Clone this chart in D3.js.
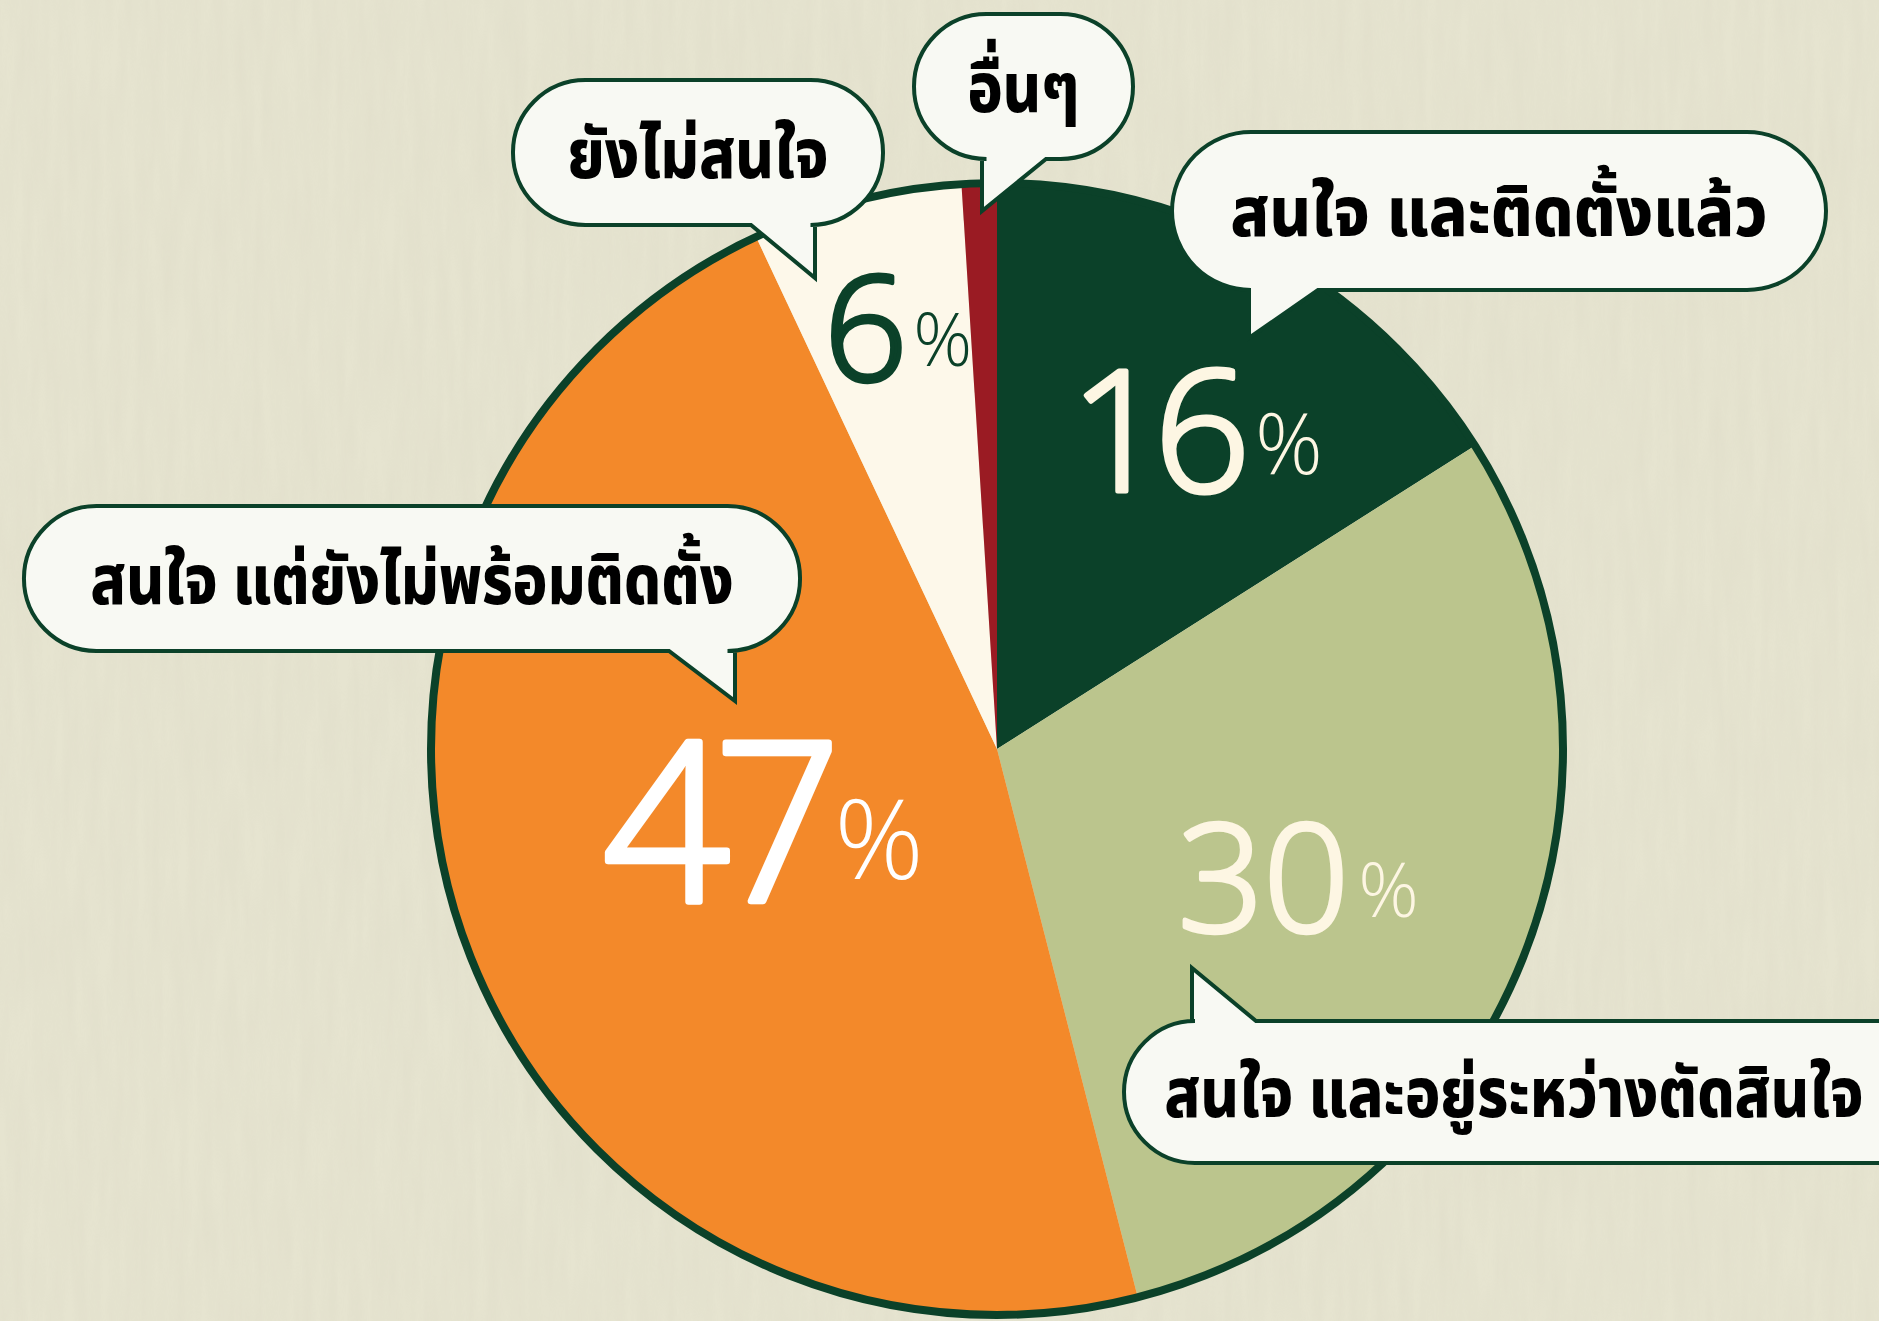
<!DOCTYPE html>
<html>
<head>
<meta charset="utf-8">
<script src="https://cdn.jsdelivr.net/npm/d3@7"></script>
<style>
  body { margin: 0; background: #e6e4d0; }
  svg { display: block; }
</style>
</head>
<body>
<div id="chart"></div>
<script>
// survey answers, clockwise from 12 o'clock
var categories = ["สนใจ และติดตั้งแล้ว", "สนใจ และอยู่ระหว่างตัดสินใจ", "สนใจ แต่ยังไม่พร้อมติดตั้ง", "ยังไม่สนใจ", "อื่นๆ"];
var values = [16, 30, 47, 6, 1];
var colors = ["#0b4129", "#bbc58d", "#f3892a", "#fdf8ea", "#9a1b23"];
var labelColors = ["#fdf6e3", "#fdf6e3", "#ffffff", "#0b4129", null];

var W = 1879, H = 1321;
var cx = 997, cy = 749, R = 566;
var dark = "#0b4129";

var svg = d3.select("#chart").append("svg")
	.attr("width", W)
	.attr("height", H);

// paper-like background, vertical streaks
var defs = svg.append("defs");
var f = defs.append("filter").attr("id", "paper")
	.attr("x", 0).attr("y", 0).attr("width", "100%").attr("height", "100%");
f.append("feTurbulence")
	.attr("type", "fractalNoise")
	.attr("baseFrequency", "0.08 0.01")
	.attr("numOctaves", 3)
	.attr("seed", 4);
f.append("feColorMatrix")
	.attr("type", "matrix")
	.attr("values", "0 0 0 0 0.55  0 0 0 0 0.52  0 0 0 0 0.42  0 0 0 0.5 -0.1");

svg.append("rect")
	.attr("width", W)
	.attr("height", H)
	.attr("fill", "#e6e4d0");
svg.append("rect")
	.attr("width", W)
	.attr("height", H)
	.attr("filter", "url(#paper)")
	.attr("opacity", 0.3);

var pie = d3.pie().sort(null).value(function(d) { return d; });
var arc = d3.arc().innerRadius(0).outerRadius(R);
var arcs = pie(values);

var g = svg.append("g")
	.attr("transform", "translate(" + cx + "," + cy + ")");

g.selectAll("path.slice")
	.data(arcs)
	.enter().append("path")
	.attr("class", "slice")
	.attr("d", arc)
	.attr("fill", function(d, i) { return colors[i]; });

g.append("circle")
	.attr("r", R)
	.attr("fill", "none")
	.attr("stroke", dark)
	.attr("stroke-width", 8);

// percent labels (layout only: left x / baseline, digit size)
var labelPos = [
	{ x: 1070, y: 491, size: 168, ls: -0.07, pdx: 0.1 },
	{ x: 1178, y: 932, size: 150, ls: 0, pdx: 0.06 },
	{ x: 603, y: 901, size: 222, ls: -0.07, pdx: 0.04 },
	{ x: 824, y: 381, size: 146, ls: 0, pdx: 0.04 }
];

labelPos.forEach(function(p, i) {
	var t = svg.append("text")
		.attr("x", p.x)
		.attr("y", p.y)
		.attr("fill", labelColors[i])
		.style("font-family", "'Open Sans', Lato, sans-serif")
		.style("font-weight", 300);
	t.append("tspan")
		.style("font-size", p.size + "px")
		.style("letter-spacing", (p.size * p.ls) + "px")
		.attr("stroke", labelColors[i])
		.attr("stroke-width", p.size * 0.03)
		.attr("stroke-linejoin", "round")
		.text(values[i]);
	t.append("tspan")
		.attr("dx", p.size * p.pdx)
		.attr("dy", -p.size * 0.1)
		.style("font-size", (p.size * 0.5) + "px")
		.style("font-weight", 300)
		.text("%");
});

// speech bubbles
var bubbles = [
	{ i: 4, x0: 914, y0: 14, x1: 1133, y1: 159, side: "bottom", b0: 982, b1: 1046, tx: 982, ty: 211, w: 112 },
	{ i: 3, x0: 513, y0: 80, x1: 883, y1: 225, side: "bottom", b0: 751, b1: 815, tx: 815, ty: 278, w: 261 },
	{ i: 0, x0: 1172, y0: 132, x1: 1826, y1: 290, side: "bottom", b0: 1249, b1: 1318, tx: 1249, ty: 338, w: 537 },
	{ i: 2, x0: 24, y0: 506, x1: 800, y1: 651, side: "bottom", b0: 669, b1: 735, tx: 735, ty: 701, w: 643 },
	{ i: 1, x0: 1124, y0: 1021, x1: 1960, y1: 1163, side: "top", b0: 1192, b1: 1256, tx: 1192, ty: 968, w: 699, textCx: 1514 }
];

function bubblePath(b) {
	var r = (b.y1 - b.y0) / 2;
	var p = d3.path();
	p.moveTo(b.x0 + r, b.y0);
	if (b.side === "top") {
		p.lineTo(b.b0, b.y0);
		p.lineTo(b.tx, b.ty);
		p.lineTo(b.b1, b.y0);
	}
	p.lineTo(b.x1 - r, b.y0);
	p.arc(b.x1 - r, b.y0 + r, r, -Math.PI / 2, Math.PI / 2);
	if (b.side === "bottom") {
		p.lineTo(b.b1, b.y1);
		p.lineTo(b.tx, b.ty);
		p.lineTo(b.b0, b.y1);
	}
	p.lineTo(b.x0 + r, b.y1);
	p.arc(b.x0 + r, b.y0 + r, r, Math.PI / 2, Math.PI * 1.5);
	p.closePath();
	return p.toString();
}

var bg = svg.selectAll("g.bubble")
	.data(bubbles)
	.enter().append("g")
	.attr("class", "bubble");

bg.append("path")
	.attr("d", bubblePath)
	.attr("fill", "#f8f9f3")
	.attr("stroke", dark)
	.attr("stroke-width", 4)
	.attr("stroke-linejoin", "miter");

var fs = 70;
bg.append("text")
	.attr("x", 0)
	.attr("y", 0)
	.attr("text-anchor", "middle")
	.attr("fill", "#000")
	.style("font-family", "'Noto Sans Thai', 'Noto Sans', sans-serif")
	.style("font-weight", 800)
	.style("font-size", fs + "px")
	.text(function(d) { return categories[d.i]; })
	.each(function(d) {
		var len = this.getComputedTextLength();
		var k = len > 0 ? d.w / len : 1;
		var x = d.textCx || (d.x0 + d.x1) / 2;
		var y = (d.y0 + d.y1) / 2 + fs * 0.36;
		d3.select(this).attr("transform", "translate(" + x + "," + y + ") scale(" + k + ",1)");
	});
</script>
</body>
</html>
